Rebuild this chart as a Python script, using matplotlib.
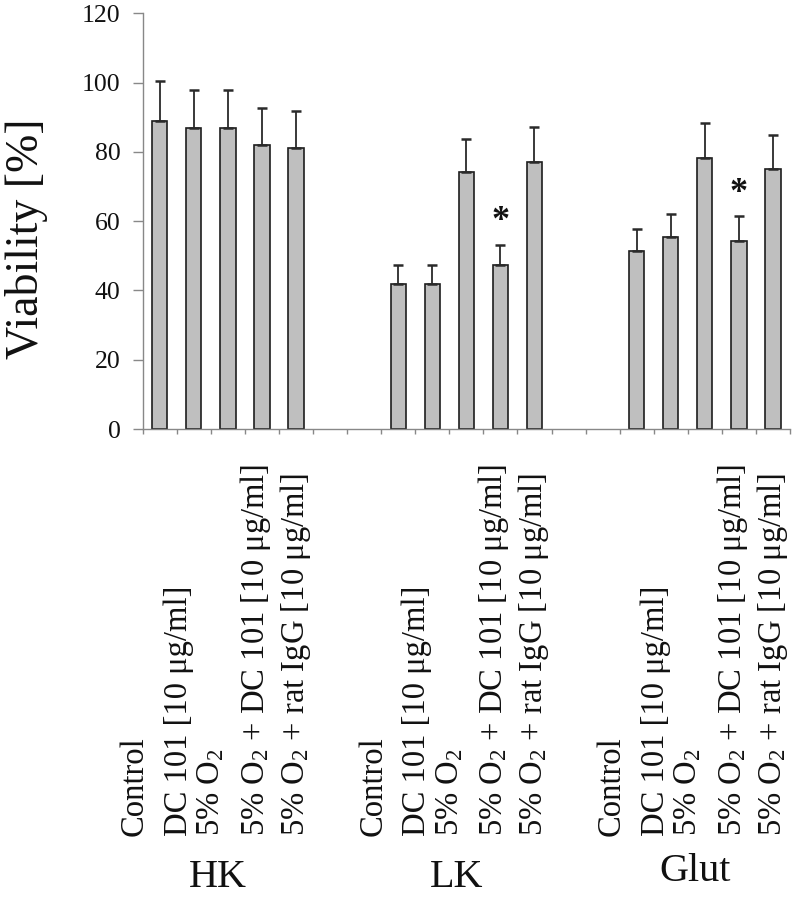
import matplotlib
matplotlib.use("Agg")
import matplotlib.pyplot as plt
import matplotlib.transforms as mtransforms
import numpy as np

plt.rcParams['font.family'] = ['Liberation Serif', 'DejaVu Serif']
plt.rcParams['mathtext.fontset'] = 'custom'
plt.rcParams['mathtext.rm'] = 'Liberation Serif'
plt.rcParams['mathtext.it'] = 'Liberation Serif:italic'
plt.rcParams['mathtext.bf'] = 'Liberation Serif:bold'

# data
groups = ['HK', 'LK', 'Glut']
conditions = ['Control',
              'DC 101 [10 μg/ml]',
              r'5% O$_2$',
              r'5% O$_2$ + DC 101 [10 μg/ml]',
              r'5% O$_2$ + rat IgG [10 μg/ml]']
hk_mean = [89, 87, 87, 82, 81]
hk_err = [11.6, 11, 11, 10.7, 10.7]
lk_mean = [42, 42, 74.3, 47.2, 77.1]
lk_err = [5.4, 5.4, 9.3, 6.0, 10.2]
glut_mean = [51.3, 55.3, 78.3, 54.2, 75.1]
glut_err = [6.5, 6.9, 10.1, 7.2, 9.9]
star = [[], [3], [3]]

means = [hk_mean, lk_mean, glut_mean]
errs = [hk_err, lk_err, glut_err]

fig = plt.figure(figsize=(7.95, 8.99), dpi=100)
ax = fig.add_axes([0.1795, 0.5228, 0.8142, 0.4624])

gap = 2
line_off = [0.0, 1.29, 2.26, 3.55, 4.73]   # label line positions in a group
trans = mtransforms.blended_transform_factory(ax.transData, fig.transFigure)

for g, name in enumerate(groups):
    start = g * (len(conditions) + gap)
    x = np.arange(start, start + len(conditions))
    ax.bar(x, means[g], width=0.45, color='#bfbfbf', edgecolor='#1e1e1e',
           linewidth=1.2, zorder=2)
    ax.errorbar(x, means[g], yerr=[np.zeros(len(x)), errs[g]], fmt='none',
                ecolor='#2a2a2a', elinewidth=1.3, capsize=3.5, capthick=1.8,
                zorder=3)
    for i in star[g]:
        ax.text(x[i], means[g][i] + errs[g][i] + 4.2, '*', ha='center',
                va='baseline', fontsize=26, fontweight='bold', color='#111')
    for j, lab in enumerate(conditions):
        ax.text(start - 0.5 + line_off[j], 0.0701, lab, transform=trans,
                rotation=90, rotation_mode='anchor', ha='left', va='baseline',
                fontsize=23.5, color='#111')
    ax.text(start + 1.72, 0.013 if name != 'Glut' else 0.02, name,
            transform=trans, ha='center', va='baseline', fontsize=29,
            color='#111')

n_cat = len(groups) * len(conditions) + (len(groups) - 1) * gap
ax.set_xlim(-0.5, n_cat - 0.5)
ax.set_ylim(0, 120)
ax.set_yticks(np.arange(0, 121, 20))
ax.set_xticks(np.arange(-0.5, n_cat, 1))
ax.set_xticklabels([])
ax.tick_params(axis='y', direction='out', length=7, width=1, color='#888',
               labelsize=18.5, pad=9, labelcolor='#111')
ax.tick_params(axis='x', direction='out', length=3.5, width=1, color='#888')
for s in ['top', 'right']:
    ax.spines[s].set_visible(False)
for s in ['left', 'bottom']:
    ax.spines[s].set_color('#888')
    ax.spines[s].set_linewidth(1)

fig.text(0.033, 1 - 239 / 899, 'Viability [%]', rotation=90, ha='center',
         va='center', fontsize=33, color='#111')

fig.savefig('out.png', dpi=100)
